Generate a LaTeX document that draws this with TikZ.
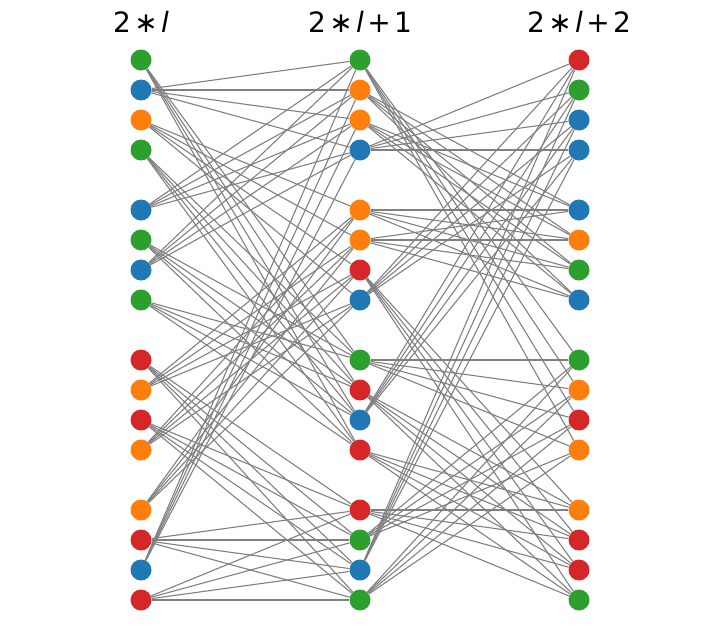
\documentclass[tikz,border=0pt]{standalone}
\usepackage{fontspec}
\setmainfont{DejaVu Sans}
\definecolor{cb}{HTML}{1F77B4}
\definecolor{co}{HTML}{FF7F0E}
\definecolor{cg}{HTML}{2CA02C}
\definecolor{cr}{HTML}{D62728}
\definecolor{eg}{HTML}{808080}
\newcommand{\opsp}[1]{\hspace{0.12em}#1\hspace{0.12em}}
\begin{document}
\begin{tikzpicture}[x=1pt,y=-1pt,
  nd/.style={circle,inner sep=0pt,minimum size=21pt},
  ed/.style={draw=eg,line width=1.1pt},
  ttl/.style={font=\fontsize{28}{32}\selectfont,inner sep=0pt}]
\useasboundingbox (0,0) rectangle (719,641);
\def\rows{{60,90,120,150,210,240,270,300,360,390,420,450,510,540,570,600}}
% nodes of column 2*l
\foreach \c [count=\i from 0] in {cg,cb,co,cg,cb,cg,cb,cg,cr,co,cr,co,co,cr,cb,cr}{
  \pgfmathsetmacro\yy{\rows[\i]}
  \node[nd,fill=\c] (na\i) at (141,\yy) {};}
% nodes of column 2*l+1
\foreach \c [count=\i from 0] in {cg,co,co,cb,co,co,cr,cb,cg,cr,cb,cr,cr,cg,cb,cg}{
  \pgfmathsetmacro\yy{\rows[\i]}
  \node[nd,fill=\c] (nb\i) at (360,\yy) {};}
% nodes of column 2*l+2
\foreach \c [count=\i from 0] in {cr,cg,cb,cb,cb,co,cg,cb,cg,co,cr,co,co,cr,cr,cg}{
  \pgfmathsetmacro\yy{\rows[\i]}
  \node[nd,fill=\c] (nc\i) at (579,\yy) {};}
% connectors: each node joins the four nodes of one block in the next column
\foreach \s/\bl in {0/2,1/0,2/1,3/2,4/0,5/2,6/0,7/2,8/3,9/1,10/3,11/1,12/1,13/3,14/0,15/3}{
  \foreach \k in {0,...,3}{
    \pgfmathtruncatemacro\t{4*\bl+\k}
    \draw[ed] (na\s) -- (nb\t);}}
\foreach \s/\bl in {0/2,1/1,2/1,3/0,4/1,5/1,6/3,7/0,8/2,9/3,10/0,11/3,12/3,13/2,14/0,15/2}{
  \foreach \k in {0,...,3}{
    \pgfmathtruncatemacro\t{4*\bl+\k}
    \draw[ed] (nb\s) -- (nc\t);}}
% titles
\node[ttl] (t0) at (141,22) {2\opsp{∗}\textit{l}};
\node[ttl] (t1) at (360,22) {2\opsp{∗}\textit{l}\opsp{+}1};
\node[ttl] (t2) at (579,22) {2\opsp{∗}\textit{l}\opsp{+}2};
\end{tikzpicture}
\end{document}
